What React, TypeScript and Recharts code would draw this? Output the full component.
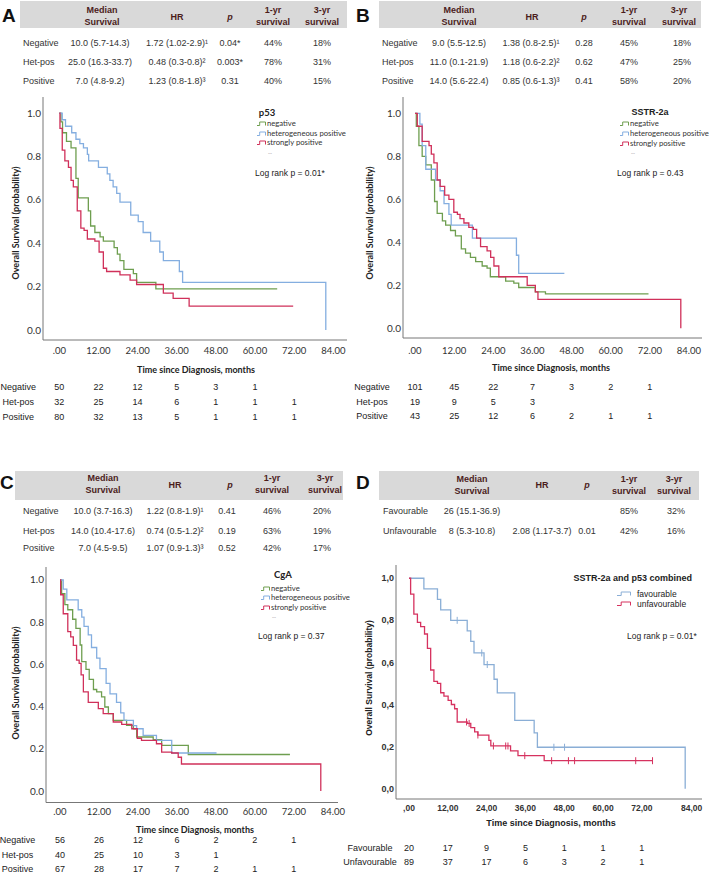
import React from 'react';
import { ComposedChart, Line, XAxis, YAxis } from 'recharts';

const ARIAL = '"Liberation Sans", Arial, sans-serif';
const CALIBRI = 'Lato, "Open Sans", sans-serif';
const HEAD = '#4b1c1c';
const AXIS = '#777';

const GREEN = '#6e9e4f';
const BLUE = '#84aee0';
const RED = '#d0305a';
const D_BLUE = '#8aaed6';
const D_RED = '#d6325f';

const MONTH_TICKS = [0, 12, 24, 36, 48, 60, 72, 84];
const SURV_TICKS = [0, 0.2, 0.4, 0.6, 0.8, 1.0];

// ---------- A: p53
const A_NEG_T = [0, 0.5, 1.0, 2.2, 3.6, 5.1, 5.8, 8.9, 9.6, 10.9, 12.5, 13.5, 16.8, 17.8, 18.6, 19.8, 22.7, 23.7, 29.6, 66.8];
const A_NEG_S = [1, 0.96, 0.91, 0.87, 0.84, 0.7, 0.61, 0.55, 0.48, 0.45, 0.43, 0.41, 0.38, 0.35, 0.32, 0.28, 0.26, 0.22, 0.19, 0.19];
const A_HET_T = [0, 0.9, 1.9, 3.8, 5.1, 6.3, 7.4, 8.6, 9.0, 12.0, 14.7, 15.5, 16.5, 17.6, 18.6, 21.9, 24.2, 25.7, 28.0, 30.8, 31.9, 36.8, 37.8, 81.7];
const A_HET_S = [1, 0.97, 0.94, 0.91, 0.88, 0.86, 0.84, 0.81, 0.78, 0.75, 0.72, 0.69, 0.66, 0.63, 0.59, 0.53, 0.5, 0.45, 0.41, 0.36, 0.32, 0.27, 0.22, 0];
const A_POS_T = [0, 0.2, 0.9, 1.7, 2.8, 3.6, 4.3, 5.5, 6.6, 7.6, 8.6, 10.9, 12.2, 13.5, 14.5, 18.6, 21.7, 23.7, 31.9, 34.9, 39.8, 71.7];
const A_POS_S = [1, 0.93, 0.83, 0.78, 0.75, 0.69, 0.66, 0.55, 0.47, 0.46, 0.42, 0.41, 0.36, 0.285, 0.27, 0.254, 0.23, 0.21, 0.17, 0.146, 0.11, 0.11];
const A_RISK_NEG = [50, 22, 12, 5, 3, 1];
const A_RISK_HET = [32, 25, 14, 6, 1, 1, 1];
const A_RISK_POS = [80, 32, 13, 5, 1, 1, 1];
const A_TABLE = [
  ['Negative', '10.0 (5.7-14.3)', '1.72 (1.02-2.9)¹', '0.04*', '44%', '18%'],
  ['Het-pos', '25.0 (16.3-33.7)', '0.48 (0.3-0.8)²', '0.003*', '78%', '31%'],
  ['Positive', '7.0 (4.8-9.2)', '1.23 (0.8-1.8)³', '0.31', '40%', '15%'],
];

// ---------- B: SSTR-2a
const B_NEG_T = [0, 0.4, 1.2, 2.2, 3.3, 5.0, 6.0, 6.8, 8.4, 9.4, 10.9, 12.4, 14.2, 15.5, 17.0, 18.6, 20.6, 22.1, 23.1, 27.8, 30.3, 31.8, 36.9, 40.0, 71.6];
const B_NEG_S = [1, 0.94, 0.85, 0.8, 0.76, 0.69, 0.59, 0.535, 0.5, 0.48, 0.455, 0.43, 0.37, 0.35, 0.33, 0.31, 0.29, 0.28, 0.24, 0.22, 0.21, 0.19, 0.17, 0.16, 0.16];
const B_HET_T = [0, 1.5, 2.2, 3.3, 6.3, 7.7, 8.9, 10.4, 11.1, 17.6, 31.1, 31.8, 45.8];
const B_HET_S = [1, 0.95, 0.85, 0.74, 0.69, 0.64, 0.58, 0.53, 0.48, 0.42, 0.34, 0.256, 0.256];
const B_POS_T = [0, 0.7, 2.2, 4.3, 5.0, 5.8, 6.8, 7.7, 9.1, 10.4, 11.9, 13.0, 13.8, 15.0, 16.5, 17.9, 18.9, 20.1, 22.1, 23.2, 24.2, 25.7, 34.4, 36.9, 37.7, 81.5];
const B_POS_S = [1, 0.94, 0.87, 0.85, 0.81, 0.77, 0.69, 0.66, 0.62, 0.6, 0.54, 0.53, 0.51, 0.49, 0.47, 0.46, 0.42, 0.38, 0.36, 0.33, 0.29, 0.24, 0.2, 0.17, 0.135, 0];
const B_RISK_NEG = [101, 45, 22, 7, 3, 2, 1];
const B_RISK_HET = [19, 9, 5, 3];
const B_RISK_POS = [43, 25, 12, 6, 2, 1, 1];
const B_TABLE = [
  ['Negative', '9.0 (5.5-12.5)', '1.38 (0.8-2.5)¹', '0.28', '45%', '18%'],
  ['Het-pos', '11.0 (0.1-21.9)', '1.18 (0.6-2.2)²', '0.62', '47%', '25%'],
  ['Positive', '14.0 (5.6-22.4)', '0.85 (0.6-1.3)³', '0.41', '58%', '20%'],
];

// ---------- C: CgA
const C_NEG_T = [0, 0.5, 1.5, 2.4, 3.9, 4.9, 6.2, 6.7, 8.0, 9.0, 10.3, 11.3, 12.8, 13.8, 14.9, 16.4, 20.5, 22.6, 23.6, 28.7, 31.3, 39.5, 70.8];
const C_NEG_S = [1, 0.935, 0.883, 0.859, 0.814, 0.771, 0.692, 0.613, 0.576, 0.529, 0.481, 0.47, 0.446, 0.398, 0.367, 0.335, 0.311, 0.295, 0.256, 0.243, 0.216, 0.173, 0.173];
const C_HET_T = [0, 1.0, 2.1, 5.6, 6.7, 7.4, 8.7, 9.7, 11.3, 12.3, 14.2, 15.4, 17.4, 18.7, 19.7, 22.6, 23.6, 25.6, 29.7, 34.4, 48.2];
const C_HET_S = [1, 0.957, 0.906, 0.859, 0.824, 0.78, 0.74, 0.68, 0.63, 0.58, 0.51, 0.46, 0.42, 0.37, 0.335, 0.31, 0.295, 0.264, 0.24, 0.18, 0.18];
const C_POS_T = [0, 0.2, 1.0, 2.4, 3.3, 4.1, 5.1, 5.9, 6.5, 7.2, 8.7, 11.8, 13.3, 16.4, 19.0, 22.1, 23.8, 25.1, 29.7, 31.3, 34.4, 36.4, 37.4, 80.3];
const C_POS_S = [1, 0.93, 0.84, 0.755, 0.73, 0.69, 0.62, 0.605, 0.55, 0.47, 0.42, 0.39, 0.367, 0.327, 0.316, 0.295, 0.25, 0.24, 0.224, 0.184, 0.18, 0.16, 0.128, 0];
const C_RISK_NEG = [56, 26, 12, 6, 2, 2, 1];
const C_RISK_HET = [40, 25, 10, 3, 1];
const C_RISK_POS = [67, 28, 17, 7, 2, 1, 1];
const C_TABLE = [
  ['Negative', '10.0 (3.7-16.3)', '1.22 (0.8-1.9)¹', '0.41', '46%', '20%'],
  ['Het-pos', '14.0 (10.4-17.6)', '0.74 (0.5-1.2)²', '0.19', '63%', '19%'],
  ['Positive', '7.0 (4.5-9.5)', '1.07 (0.9-1.3)³', '0.52', '42%', '17%'],
];

// ---------- D: SSTR-2a and p53 combined
const D_FAV_T = [0, 4.6, 8.8, 9.8, 12.9, 18.0, 19.1, 20.1, 23.2, 26.3, 27.3, 32.7, 38.7, 39.7, 85.4];
const D_FAV_S = [1, 0.95, 0.9, 0.85, 0.8, 0.75, 0.7, 0.645, 0.59, 0.52, 0.455, 0.325, 0.265, 0.197, 0];
const D_FAV_CENS_T = [14.9, 22.5, 24.2, 44.8, 48.1];
const D_FAV_CENS_S = [0.8, 0.645, 0.59, 0.197, 0.197];
const D_UNF_T = [0, 0.5, 1.5, 2.6, 3.6, 4.8, 5.7, 6.7, 7.7, 8.8, 9.8, 10.8, 12.1, 13.1, 14.1, 14.9, 18.0, 19.1, 20.3, 21.3, 24.7, 25.3, 31.4, 33.7, 41.8, 75.3];
const D_UNF_S = [1, 0.925, 0.83, 0.79, 0.77, 0.735, 0.667, 0.564, 0.51, 0.5, 0.456, 0.44, 0.42, 0.4, 0.38, 0.317, 0.31, 0.29, 0.27, 0.255, 0.23, 0.203, 0.18, 0.157, 0.133, 0.133];
const D_UNF_CENS_T = [17.8, 18.6, 21.3, 26.1, 29.9, 30.6, 35.8, 44.1, 49.3, 51.2, 70.1, 75.3];
const D_UNF_CENS_S = [0.317, 0.31, 0.255, 0.203, 0.203, 0.203, 0.157, 0.133, 0.133, 0.133, 0.133, 0.133];
const D_RISK_FAV = [20, 17, 9, 5, 1, 1, 1];
const D_RISK_UNF = [89, 37, 17, 6, 3, 2, 1];
const D_TABLE = [
  ['Favourable', '26 (15.1-36.9)', '', '', '85%', '32%'],
  ['Unfavourable', '8 (5.3-10.8)', '2.08 (1.17-3.7)', '0.01', '42%', '16%'],
];

const zip = (t: number[], s: number[]) => t.map((v, i) => ({ t: v, s: s[i] }));
const fmtX = (v: number) => (v === 0 ? '.00' : v.toFixed(2));
const fmtXc = (v: number) => fmtX(v).replace('.', ',');
const fmtY = (v: number) => v.toFixed(1);
const fmtYc = (v: number) => v.toFixed(1).replace('.', ',');

type Series = { color: string; t: number[]; s: number[]; censT?: number[]; censS?: number[] };
type RiskRow = { label: string; counts: number[] };
type ChartCfg = {
  left: number; top: number; width: number; height: number;
  margin: { top: number; right: number; bottom: number; left: number };
  yAxisW: number; axisH: number; riskTop: number; riskRowH: number;
  xDomain: [number, number]; yDomain: [number, number];
  series: Series[]; risk: RiskRow[];
  xFmt: (v: number) => string; yFmt: (v: number) => string;
  tickFont: string; tickSize: number; tickWeight: number;
  xTickDy: number; lastTickShift: number; riskLabelDx: number;
};

const CensorDot = (props: any) => {
  const { cx, cy, stroke } = props;
  if (cx == null || cy == null) return <g />;
  return <line x1={cx} x2={cx} y1={cy - 3.5} y2={cy + 3.5} stroke={stroke} strokeWidth={1} />;
};

// x tick: time label plus the numbers-at-risk column below it
function TimeTick({ p, cfg }: { p: any; cfg: ChartCfg }) {
  const v = p.payload.value;
  const idx = MONTH_TICKS.indexOf(v);
  return (
    <g>
      <text
        x={p.x + (v === 84 ? cfg.lastTickShift : 0)}
        y={p.y + cfg.xTickDy}
        dy="0.35em"
        textAnchor="middle"
        fontFamily={cfg.tickFont}
        fontSize={cfg.tickSize}
        fontWeight={cfg.tickWeight}
        fill="#333"
      >
        {cfg.xFmt(v)}
      </text>
      {cfg.risk.map((row, ri) => {
        const y = p.y + cfg.riskTop + ri * cfg.riskRowH;
        const n = row.counts[idx];
        return (
          <g key={row.label}>
            {idx === 0 && (
              <text x={p.x + cfg.riskLabelDx} y={y} dy="0.35em" textAnchor="middle" fontFamily={ARIAL} fontSize={9} fill="#222">
                {row.label}
              </text>
            )}
            {n !== undefined && (
              <text x={p.x} y={y} dy="0.35em" textAnchor="middle" fontFamily={ARIAL} fontSize={9} fill="#222">
                {n}
              </text>
            )}
          </g>
        );
      })}
    </g>
  );
}

function KMChart({ cfg }: { cfg: ChartCfg }) {
  return (
    <div style={{ position: 'absolute', left: cfg.left, top: cfg.top }}>
      <ComposedChart width={cfg.width} height={cfg.height} margin={cfg.margin}>
        <XAxis
          dataKey="t"
          type="number"
          domain={cfg.xDomain}
          allowDataOverflow
          ticks={MONTH_TICKS}
          interval={0}
          height={cfg.axisH}
          axisLine={{ stroke: AXIS, strokeWidth: 1 }}
          tickLine={false}
          tickSize={0}
          tickMargin={0}
          tick={(p: any) => <TimeTick p={p} cfg={cfg} />}
        />
        <YAxis
          dataKey="s"
          type="number"
          domain={cfg.yDomain}
          allowDataOverflow
          ticks={SURV_TICKS}
          interval={0}
          width={cfg.yAxisW}
          axisLine={{ stroke: AXIS, strokeWidth: 1 }}
          tickLine={false}
          tickSize={0}
          tickMargin={2}
          tick={(p: any) => (
            <text x={p.x} y={p.y} dy="0.35em" textAnchor="end" fontFamily={cfg.tickFont} fontSize={cfg.tickSize + 0.5} fontWeight={cfg.tickWeight} fill="#333">
              {cfg.yFmt(p.payload.value)}
            </text>
          )}
        />
        {cfg.series.map((s, i) => (
          <Line
            key={'l' + i}
            data={zip(s.t, s.s)}
            dataKey="s"
            type="stepAfter"
            stroke={s.color}
            strokeWidth={1.3}
            dot={false}
            activeDot={false}
            isAnimationActive={false}
          />
        ))}
        {cfg.series
          .filter((s) => s.censT)
          .map((s, i) => (
            <Line
              key={'c' + i}
              data={zip(s.censT as number[], s.censS as number[])}
              dataKey="s"
              stroke={s.color}
              strokeWidth={0}
              strokeOpacity={0}
              dot={(p: any) => <CensorDot key={p.index} cx={p.cx} cy={p.cy} stroke={s.color} />}
              activeDot={false}
              isAnimationActive={false}
            />
          ))}
      </ComposedChart>
    </div>
  );
}

function T({ x, y, anchor = 'start', style, children }: any) {
  const tx = anchor === 'start' ? '0' : anchor === 'middle' ? '-50%' : '-100%';
  return (
    <div style={{ position: 'absolute', left: x, top: y, transform: `translate(${tx}, -50%)`, whiteSpace: 'nowrap', lineHeight: 1, ...style }}>
      {children}
    </div>
  );
}

function YTitle({ x, y, style }: any) {
  return (
    <div style={{ position: 'absolute', left: x, top: y, transform: 'translate(-50%, -50%) rotate(-90deg)', whiteSpace: 'nowrap', lineHeight: 1, ...style }}>
      Overall Survival (probability)
    </div>
  );
}

function StatsTable({ band, lineY, midY, hdrX, lblX, colX, rowY, rows }: any) {
  const hs = { fontFamily: ARIAL, fontSize: 9, fontWeight: 700, color: HEAD };
  const rs = { fontFamily: ARIAL, fontSize: 9, color: '#333' };
  const two = [['Median', 'Survival'], null, null, ['1-yr', 'survival'], ['3-yr', 'survival']];
  return (
    <>
      <div style={{ position: 'absolute', left: band[0], top: band[1], width: band[2], height: band[3], background: '#d9d9d9' }} />
      {hdrX.map((x: number, i: number) =>
        two[i] ? (
          <React.Fragment key={i}>
            <T x={x} y={lineY[0]} anchor="middle" style={hs}>{two[i]![0]}</T>
            <T x={x} y={lineY[1]} anchor="middle" style={hs}>{two[i]![1]}</T>
          </React.Fragment>
        ) : (
          <T key={i} x={x} y={midY} anchor="middle" style={{ ...hs, fontStyle: i === 2 ? 'italic' : 'normal' }}>
            {i === 1 ? 'HR' : 'p'}
          </T>
        )
      )}
      {rows.map((r: string[], ri: number) => (
        <React.Fragment key={ri}>
          <T x={lblX} y={rowY[ri]} style={rs}>{r[0]}</T>
          {colX.map((x: number, ci: number) => (
            <T key={ci} x={x} y={rowY[ri]} anchor="middle" style={rs}>{r[ci + 1]}</T>
          ))}
        </React.Fragment>
      ))}
    </>
  );
}

function StepIcon({ x, y, color, w = 9 }: any) {
  return (
    <svg style={{ position: 'absolute', left: x, top: y - 3 }} width={w} height={6}>
      <path d={`M0,4.5 H${w * 0.3} V1 H${w - 0.5} V4.5`} stroke={color} strokeWidth={1} fill="none" />
    </svg>
  );
}

function GroupLegend({ title, titleX, titleY, iconX, textX, ys, dashY, pText, pX, pY, titleStyle }: any) {
  const ls = { fontFamily: CALIBRI, fontSize: 7.7, color: '#333' };
  const names = ['negative', 'heterogeneous positive', 'strongly positive'];
  const cols = [GREEN, BLUE, RED];
  return (
    <>
      <T x={titleX} y={titleY} anchor="middle" style={titleStyle}>{title}</T>
      {names.map((n, i) => (
        <React.Fragment key={n}>
          <StepIcon x={iconX} y={ys[i]} color={cols[i]} />
          <T x={textX} y={ys[i]} style={ls}>{n}</T>
        </React.Fragment>
      ))}
      <T x={textX + 1} y={dashY} style={{ fontFamily: ARIAL, fontSize: 6, color: '#999' }}>--</T>
      <T x={pX} y={pY} style={{ fontFamily: ARIAL, fontSize: 8.5, color: '#222' }}>{pText}</T>
    </>
  );
}

const calTitle = { fontFamily: CALIBRI, fontSize: 9, fontWeight: 700, color: '#222' };
const letter = { fontFamily: ARIAL, fontSize: 19, fontWeight: 700, color: '#111' };

const baseCfg = {
  xFmt: fmtX, yFmt: fmtY, tickFont: CALIBRI, tickSize: 9.5, tickWeight: 400, lastTickShift: 0,
};

const A_CFG: ChartCfg = {
  ...baseCfg,
  left: 0, top: 90, width: 354, height: 340,
  margin: { top: 7, right: 7, bottom: 6, left: 0 },
  yAxisW: 43, axisH: 84, riskTop: 47, riskRowH: 14.7,
  xDomain: [-5.0, 88.2], yDomain: [-0.046, 1.075],
  xTickDy: 11, riskLabelDx: -41,
  series: [
    { color: GREEN, t: A_NEG_T, s: A_NEG_S },
    { color: BLUE, t: A_HET_T, s: A_HET_S },
    { color: RED, t: A_POS_T, s: A_POS_S },
  ],
  risk: [
    { label: 'Negative', counts: A_RISK_NEG },
    { label: 'Het-pos', counts: A_RISK_HET },
    { label: 'Positive', counts: A_RISK_POS },
  ],
};

const B_CFG: ChartCfg = {
  ...baseCfg,
  left: 344, top: 90, width: 365, height: 340,
  margin: { top: 7, right: 7, bottom: 6, left: 10 },
  yAxisW: 49, axisH: 86, riskTop: 49, riskRowH: 14.5,
  xDomain: [-3.68, 88.0], yDomain: [-0.045, 1.076],
  xTickDy: 13, riskLabelDx: -43,
  series: [
    { color: GREEN, t: B_NEG_T, s: B_NEG_S },
    { color: BLUE, t: B_HET_T, s: B_HET_S },
    { color: RED, t: B_POS_T, s: B_POS_S },
  ],
  risk: [
    { label: 'Negative', counts: B_RISK_NEG },
    { label: 'Het-pos', counts: B_RISK_HET },
    { label: 'Positive', counts: B_RISK_POS },
  ],
};

const C_CFG: ChartCfg = {
  ...baseCfg,
  left: 0, top: 560, width: 354, height: 316,
  margin: { top: 7, right: 16, bottom: 0, left: 0 },
  yAxisW: 46, axisH: 73.5, riskTop: 37.5, riskRowH: 14.5,
  xDomain: [-4.31, 85.6], yDomain: [-0.0545, 1.0616],
  xTickDy: 9.5, riskLabelDx: -42.5,
  series: [
    { color: GREEN, t: C_NEG_T, s: C_NEG_S },
    { color: BLUE, t: C_HET_T, s: C_HET_S },
    { color: RED, t: C_POS_T, s: C_POS_S },
  ],
  risk: [
    { label: 'Negative', counts: C_RISK_NEG },
    { label: 'Het-pos', counts: C_RISK_HET },
    { label: 'Positive', counts: C_RISK_POS },
  ],
};

const D_CFG: ChartCfg = {
  left: 330, top: 558, width: 379, height: 317,
  margin: { top: 7, right: 7, bottom: 7, left: 24 },
  yAxisW: 42, axisH: 69, riskTop: 49, riskRowH: 14,
  xDomain: [-4.02, 90.6], yDomain: [-0.049, 1.063],
  xFmt: fmtXc, yFmt: fmtYc, tickFont: ARIAL, tickSize: 8.5, tickWeight: 700,
  xTickDy: 9, lastTickShift: 11, riskLabelDx: -39,
  series: [
    { color: D_BLUE, t: D_FAV_T, s: D_FAV_S, censT: D_FAV_CENS_T, censS: D_FAV_CENS_S },
    { color: D_RED, t: D_UNF_T, s: D_UNF_S, censT: D_UNF_CENS_T, censS: D_UNF_CENS_S },
  ],
  risk: [
    { label: 'Favourable', counts: D_RISK_FAV },
    { label: 'Unfavourable', counts: D_RISK_UNF },
  ],
};

export default function App() {
  const ds = { fontFamily: ARIAL, fontSize: 8.5, color: '#222' };
  return (
    <div style={{ position: 'absolute', left: 0, top: 0, width: 709, height: 875, background: '#fff', overflow: 'hidden' }}>
      {/* A */}
      <T x={2} y={15} style={letter}>A</T>
      <StatsTable band={[20, 1, 327, 27]} lineY={[10, 22]} midY={17} hdrX={[102, 177, 230, 273, 322]} lblX={23} colX={[100, 177, 230, 273, 322]} rowY={[43, 62, 81]} rows={A_TABLE} />
      <KMChart cfg={A_CFG} />
      <YTitle x={15} y={223} style={calTitle} />
      <T x={196} y={369} anchor="middle" style={calTitle}>Time since Diagnosis, months</T>
      <GroupLegend title="p53" titleX={267} titleY={113} iconX={257} textX={267} ys={[124, 133.5, 143]} dashY={153} pText="Log rank p = 0.01*" pX={255} pY={173} titleStyle={{ ...calTitle, fontSize: 9.5 }} />

      {/* B */}
      <T x={356} y={15} style={letter}>B</T>
      <StatsTable band={[379, 1, 322, 27]} lineY={[10, 22]} midY={17} hdrX={[459, 532, 584, 629, 679]} lblX={382} colX={[459, 531, 584, 629, 682]} rowY={[43, 62, 81]} rows={B_TABLE} />
      <KMChart cfg={B_CFG} />
      <YTitle x={369} y={223} style={calTitle} />
      <T x={551} y={367} anchor="middle" style={calTitle}>Time since Diagnosis, months</T>
      <GroupLegend title="SSTR-2a" titleX={650} titleY={112} iconX={620} textX={630} ys={[124, 134, 144]} dashY={153} pText="Log rank p = 0.43" pX={617} pY={173} titleStyle={{ fontFamily: ARIAL, fontSize: 9, fontWeight: 700, color: '#222' }} />

      {/* C */}
      <T x={0} y={482} style={letter}>C</T>
      <StatsTable band={[15, 471, 328, 29]} lineY={[478, 490]} midY={485} hdrX={[103, 175, 230, 272, 325]} lblX={23} colX={[103, 175, 227, 272, 322]} rowY={[511, 531, 548]} rows={C_TABLE} />
      <KMChart cfg={C_CFG} />
      <YTitle x={15} y={683} style={calTitle} />
      <T x={195} y={829} anchor="middle" style={calTitle}>Time since Diagnosis, months</T>
      <GroupLegend title="CgA" titleX={283} titleY={575} iconX={261} textX={271} ys={[589, 598, 608]} dashY={617} pText="Log rank p = 0.37" pX={258} pY={636} titleStyle={{ ...calTitle, fontSize: 9.5 }} />

      {/* D */}
      <T x={356} y={482} style={letter}>D</T>
      <StatsTable band={[379, 471, 320, 29]} lineY={[479, 491]} midY={485} hdrX={[472, 542, 587, 629, 674]} lblX={383} colX={[472, 542, 587, 629, 676]} rowY={[511, 531]} rows={D_TABLE} />
      <KMChart cfg={D_CFG} />
      <YTitle x={369} y={678} style={{ fontFamily: ARIAL, fontSize: 8.5, fontWeight: 700, color: '#222' }} />
      <T x={551} y={823} anchor="middle" style={{ fontFamily: ARIAL, fontSize: 9, fontWeight: 700, color: '#222' }}>Time since Diagnosis, months</T>
      <T x={692} y={578} anchor="end" style={{ fontFamily: ARIAL, fontSize: 9, fontWeight: 700, color: '#222' }}>SSTR-2a and p53 combined</T>
      <StepIcon x={617} y={594} color={D_BLUE} w={14} />
      <T x={637} y={594} style={ds}>favourable</T>
      <StepIcon x={617} y={604} color={D_RED} w={14} />
      <T x={637} y={604} style={ds}>unfavourable</T>
      <T x={627} y={636} style={ds}>Log rank p = 0.01*</T>
    </div>
  );
}
